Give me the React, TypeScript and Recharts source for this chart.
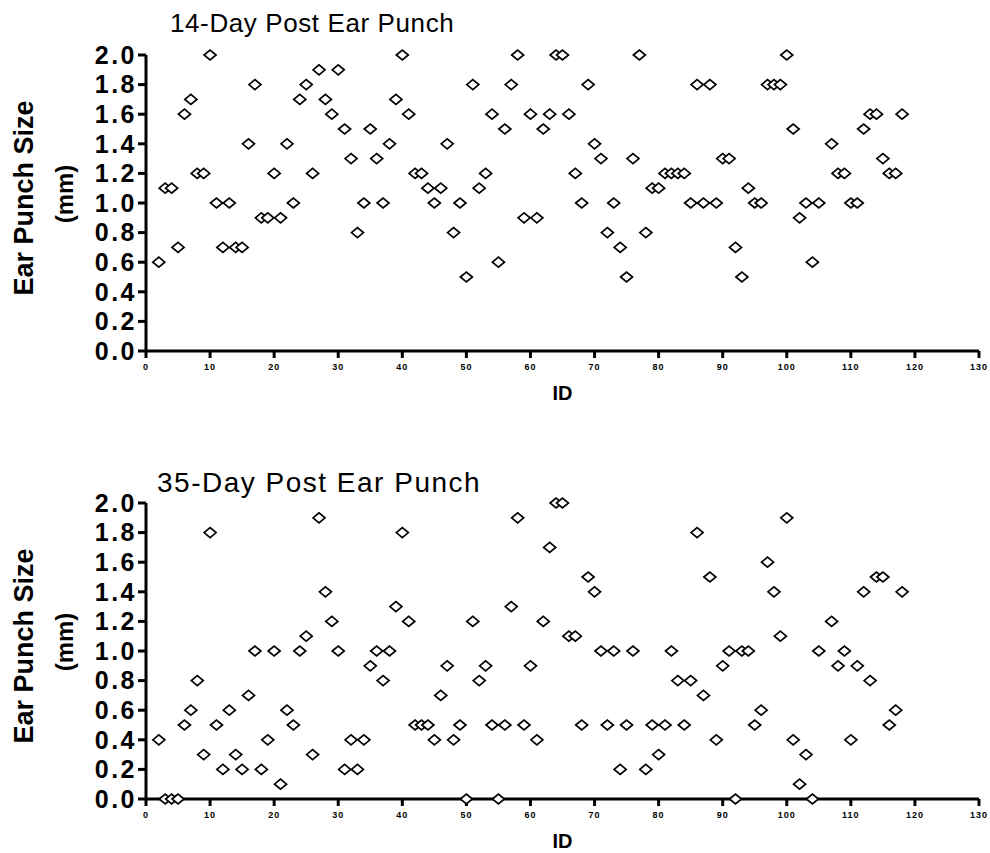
import { ScatterChart, Scatter, XAxis, YAxis } from 'recharts'

// ── data ───────────────────────────────────────────────────────────────────────
const ids14 = [
  2, 3, 4, 5, 6, 7, 8, 9, 10, 11, 12, 13, 14, 15, 16, 17, 18, 19, 20, 21, 22, 23, 24, 25, 26, 27, 28, 29, 30,
  31, 32, 33, 34, 35, 36, 37, 38, 39, 40, 41, 42, 43, 44, 45, 46, 47, 48, 49, 50, 51, 52, 53, 54, 55, 56, 57,
  58, 59, 60, 61, 62, 63, 64, 65, 66, 67, 68, 69, 70, 71, 72, 73, 74, 75, 76, 77, 78, 79, 80, 81, 82, 83, 84,
  85, 86, 87, 88, 89, 90, 91, 92, 93, 94, 95, 96, 97, 98, 99, 100, 101, 102, 103, 104, 105, 107, 108, 109,
  110, 111, 112, 113, 114, 115, 116, 117, 118,
]
const size14 = [
  0.6, 1.1, 1.1, 0.7, 1.6, 1.7, 1.2, 1.2, 2.0, 1.0, 0.7, 1.0, 0.7, 0.7, 1.4, 1.8, 0.9, 0.9, 1.2, 0.9, 1.4, 1.0,
  1.7, 1.8, 1.2, 1.9, 1.7, 1.6, 1.9, 1.5, 1.3, 0.8, 1.0, 1.5, 1.3, 1.0, 1.4, 1.7, 2.0, 1.6, 1.2, 1.2, 1.1, 1.0,
  1.1, 1.4, 0.8, 1.0, 0.5, 1.8, 1.1, 1.2, 1.6, 0.6, 1.5, 1.8, 2.0, 0.9, 1.6, 0.9, 1.5, 1.6, 2.0, 2.0, 1.6, 1.2,
  1.0, 1.8, 1.4, 1.3, 0.8, 1.0, 0.7, 0.5, 1.3, 2.0, 0.8, 1.1, 1.1, 1.2, 1.2, 1.2, 1.2, 1.0, 1.8, 1.0, 1.8, 1.0,
  1.3, 1.3, 0.7, 0.5, 1.1, 1.0, 1.0, 1.8, 1.8, 1.8, 2.0, 1.5, 0.9, 1.0, 0.6, 1.0, 1.4, 1.2, 1.2, 1.0, 1.0, 1.5,
  1.6, 1.6, 1.3, 1.2, 1.2, 1.6,
]

const ids35 = [
  2, 3, 4, 5, 6, 7, 8, 9, 10, 11, 12, 13, 14, 15, 16, 17, 18, 19, 20, 21, 22, 23, 24, 25, 26, 27, 28, 29, 30,
  31, 32, 33, 34, 35, 36, 37, 38, 39, 40, 41, 42, 43, 44, 45, 46, 47, 48, 49, 50, 51, 52, 53, 54, 55, 56, 57,
  58, 59, 60, 61, 62, 63, 64, 65, 66, 67, 68, 69, 70, 71, 72, 73, 74, 75, 76, 78, 79, 80, 81, 82, 83, 84, 85,
  86, 87, 88, 89, 90, 91, 92, 93, 94, 95, 96, 97, 98, 99, 100, 101, 102, 103, 104, 105, 107, 108, 109, 110,
  111, 112, 113, 114, 115, 116, 117, 118,
]
const size35 = [
  0.4, 0, 0, 0, 0.5, 0.6, 0.8, 0.3, 1.8, 0.5, 0.2, 0.6, 0.3, 0.2, 0.7, 1.0, 0.2, 0.4, 1.0, 0.1, 0.6, 0.5, 1.0,
  1.1, 0.3, 1.9, 1.4, 1.2, 1.0, 0.2, 0.4, 0.2, 0.4, 0.9, 1.0, 0.8, 1.0, 1.3, 1.8, 1.2, 0.5, 0.5, 0.5, 0.4, 0.7,
  0.9, 0.4, 0.5, 0, 1.2, 0.8, 0.9, 0.5, 0, 0.5, 1.3, 1.9, 0.5, 0.9, 0.4, 1.2, 1.7, 2.0, 2.0, 1.1, 1.1, 0.5, 1.5,
  1.4, 1.0, 0.5, 1.0, 0.2, 0.5, 1.0, 0.2, 0.5, 0.3, 0.5, 1.0, 0.8, 0.5, 0.8, 1.8, 0.7, 1.5, 0.4, 0.9, 1.0, 0,
  1.0, 1.0, 0.5, 0.6, 1.6, 1.4, 1.1, 1.9, 0.4, 0.1, 0.3, 0, 1.0, 1.2, 0.9, 1.0, 0.4, 0.9, 1.4, 0.8, 1.5, 1.5,
  0.5, 0.6, 1.4,
]

const xTicks = [0, 10, 20, 30, 40, 50, 60, 70, 80, 90, 100, 110, 120, 130]
const yTicks = [0, 0.2, 0.4, 0.6, 0.8, 1.0, 1.2, 1.4, 1.6, 1.8, 2.0]

const FONT = '"Liberation Sans", Arial, Helvetica, sans-serif'
const W = 990
const H = 448

// ── open diamond marker ────────────────────────────────────────────────────────
function Diamond(props: { cx?: number; cy?: number }) {
  const { cx = 0, cy = 0 } = props
  const hw = 6
  const hh = 5
  return (
    <path
      d={`M${cx - hw},${cy} L${cx},${cy - hh} L${cx + hw},${cy} L${cx},${cy + hh} Z`}
      fill="#fff"
      stroke="#000"
      strokeWidth={1.7}
    />
  )
}

function Panel({ ids, sizes }: { ids: number[]; sizes: number[] }) {
  const data = ids.map((id, i) => ({ id, size: sizes[i] }))
  return (
    <ScatterChart width={W} height={H} margin={{ top: 55, right: 11, left: 86, bottom: 67 }}>
      <XAxis
        type="number"
        dataKey="id"
        domain={[0, 130]}
        ticks={xTicks}
        height={30}
        axisLine={{ stroke: '#000', strokeWidth: 3 }}
        tickLine={{ stroke: '#000', strokeWidth: 3 }}
        tickSize={7}
        tickMargin={6}
        tick={{ fill: '#000', fontSize: 9, fontWeight: 'bold', fontFamily: FONT, letterSpacing: 1 }}
        interval={0}
      />
      <YAxis
        type="number"
        dataKey="size"
        domain={[0, 2]}
        ticks={yTicks}
        width={60}
        axisLine={{ stroke: '#000', strokeWidth: 3 }}
        tickLine={{ stroke: '#000', strokeWidth: 3 }}
        tickSize={8}
        tickMargin={1}
        tickFormatter={(v: number) => v.toFixed(1)}
        tick={{ fill: '#000', fontSize: 25, fontWeight: 'bold', fontFamily: FONT, letterSpacing: 2.5 }}
        interval={0}
      />
      <Scatter data={data} shape={<Diamond />} isAnimationActive={false} />
    </ScatterChart>
  )
}

function Labels({ top, title, titleX, titleY, titleSize, titleSpacing }: {
  top: number
  title: string
  titleX: number
  titleY: number
  titleSize: number
  titleSpacing: number
}) {
  return (
    <svg
      width={W}
      height={H}
      style={{ position: 'absolute', left: 0, top, pointerEvents: 'none', fontFamily: FONT }}
    >
      <text x={titleX} y={titleY} fontSize={titleSize} letterSpacing={titleSpacing} fill="#000">
        {title}
      </text>
      <text
        transform="translate(33,198) rotate(-90)"
        textAnchor="middle"
        fontSize={27}
        fontWeight="bold"
        fill="#000"
      >
        Ear Punch Size
      </text>
      <text
        transform="translate(73,194) rotate(-90)"
        textAnchor="middle"
        fontSize={24}
        fontWeight="bold"
        fill="#000"
      >
        (mm)
      </text>
      <text x={562.5} y={400} textAnchor="middle" fontSize={20} fontWeight="bold" fill="#000">
        ID
      </text>
    </svg>
  )
}

export default function App() {
  return (
    <div style={{ position: 'absolute', left: 0, top: 0, width: W, height: 853, background: '#fff' }}>
      <div style={{ position: 'absolute', left: 0, top: 0 }}>
        <Panel ids={ids14} sizes={size14} />
      </div>
      <div style={{ position: 'absolute', left: 0, top: H }}>
        <Panel ids={ids35} sizes={size35} />
      </div>
      <Labels top={0} title="14-Day Post Ear Punch" titleX={170} titleY={32} titleSize={26} titleSpacing={0.6} />
      <Labels top={H} title="35-Day Post Ear Punch" titleX={157} titleY={44} titleSize={28} titleSpacing={1.5} />
    </div>
  )
}
